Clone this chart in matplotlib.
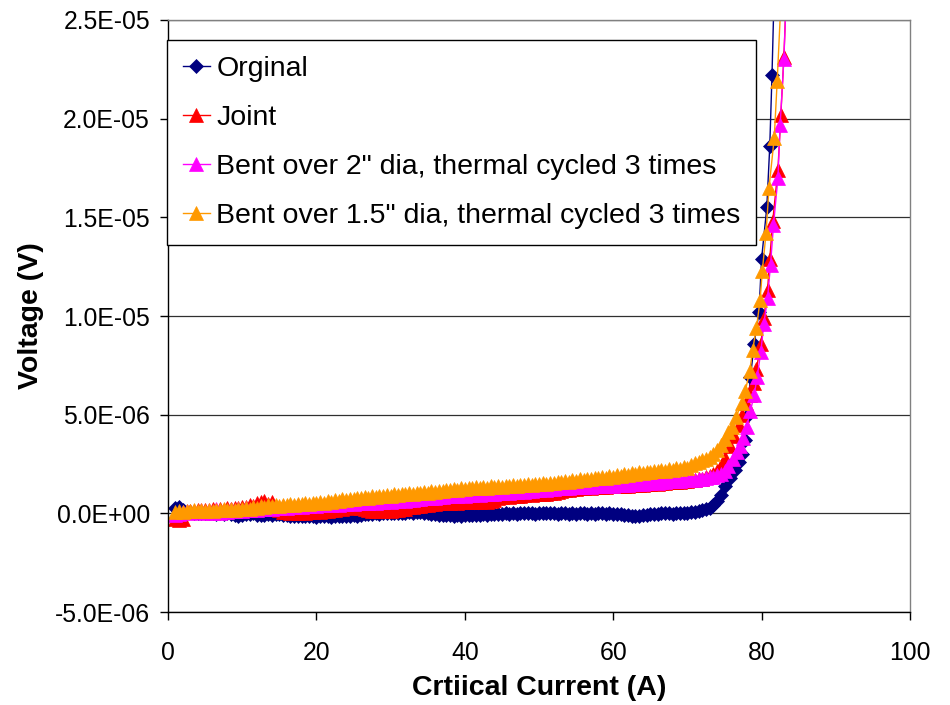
import numpy as np
import matplotlib
matplotlib.use("Agg")
import matplotlib.pyplot as plt
from matplotlib.ticker import FuncFormatter, MultipleLocator

plt.rcParams['font.family'] = ['Liberation Sans', 'DejaVu Sans']

# Common sampling grid (A) for the low-current part
current_flat = np.arange(1.0, 72.01, 0.5)

# ---------------- Values in microvolts ----------------
orig_flat_uV = [
    0.25, 0.30, 0.15, 0.08, 0.05, 0.02, 0.04, 0.00, 0.03, 0.01,
    0.02, -0.02, 0.01, -0.03, 0.00, -0.05, -0.08, -0.15, -0.06, -0.02,
    -0.04, 0.00, -0.06, -0.10, -0.08, -0.04, -0.06, -0.02, -0.05, -0.08,
    -0.10, -0.12, -0.14, -0.12, -0.15, -0.13, -0.16, -0.14, -0.17, -0.15,
    -0.16, -0.14, -0.17, -0.15, -0.13, -0.16, -0.14, -0.12, -0.10, -0.12,
    -0.08, -0.05, -0.03, -0.01, 0.01, -0.02, 0.00, 0.02, 0.00, 0.03,
    0.01, 0.04, 0.02, 0.06, 0.04, 0.07, 0.05, 0.03, 0.00, -0.03,
    -0.05, -0.08, -0.06, -0.10, -0.08, -0.11, -0.09, -0.12, -0.10, -0.08,
    -0.10, -0.07, -0.09, -0.05, -0.07, -0.03, -0.05, -0.01, -0.03, 0.00,
    -0.02, 0.01, -0.01, 0.02, 0.00, 0.03, 0.01, -0.02, 0.00, 0.02,
    0.00, 0.03, 0.01, -0.02, 0.00, 0.02, -0.01, 0.01, -0.02, 0.00,
    0.02, -0.01, 0.01, -0.02, 0.00, 0.02, -0.01, 0.01, -0.03, -0.01,
    -0.04, -0.07, -0.10, -0.13, -0.15, -0.12, -0.10, -0.06, -0.04, -0.01,
    -0.02, 0.01, 0.00, 0.02, -0.01, 0.01, 0.00, 0.02, 0.04, 0.06,
    0.08, 0.11, 0.15]
orig_steep_A = [72.5, 73.0, 73.5, 74.0, 74.5, 75.1, 75.7, 76.4, 76.9, 77.4,
                77.8, 78.1, 78.5, 79.0, 79.65, 80.0, 80.7, 81.1, 81.4, 81.8]
orig_steep_uV = [0.2, 0.28, 0.4, 0.65, 0.95, 1.4, 1.8, 2.2, 2.6, 3.0,
                 3.7, 5.0, 6.9, 8.6, 10.2, 12.9, 15.5, 18.6, 22.2, 28.0]

joint_flat_uV = [
    -0.30, -0.32, -0.28, 0.05, 0.12, 0.08, 0.15, 0.10, 0.18, 0.12,
    0.20, 0.15, 0.22, 0.18, 0.25, 0.20, 0.28, 0.25, 0.32, 0.30,
    0.40, 0.35, 0.50, 0.55, 0.62, 0.48, 0.58, 0.30, 0.15, 0.08,
    0.05, 0.02, 0.06, 0.03, 0.07, 0.04, 0.08, 0.05, 0.10, 0.08,
    0.12, 0.10, 0.18, 0.15, 0.25, 0.22, 0.30, 0.28, 0.32, 0.30,
    0.28, 0.22, 0.18, 0.14, 0.12, 0.15, 0.13, 0.16, 0.14, 0.18,
    0.17, 0.20, 0.22, 0.30, 0.32, 0.35, 0.38, 0.40, 0.42, 0.45,
    0.48, 0.52, 0.50, 0.55, 0.53, 0.56, 0.54, 0.57, 0.55, 0.58,
    0.56, 0.59, 0.57, 0.60, 0.58, 0.65, 0.70, 0.78, 0.82, 0.86,
    0.84, 0.88, 0.86, 0.90, 0.92, 0.96, 0.94, 0.98, 0.96, 1.00,
    0.98, 1.03, 1.05, 1.10, 1.12, 1.18, 1.20, 1.24, 1.25, 1.28,
    1.28, 1.31, 1.30, 1.33, 1.32, 1.35, 1.34, 1.37, 1.36, 1.39,
    1.38, 1.41, 1.40, 1.43, 1.42, 1.46, 1.45, 1.49, 1.48, 1.52,
    1.51, 1.55, 1.54, 1.58, 1.57, 1.61, 1.60, 1.64, 1.63, 1.68,
    1.68, 1.72, 1.76]
joint_steep_A = [72.5, 73.0, 73.5, 74.0, 74.5, 75.0, 75.7, 76.3, 76.9, 77.4,
                 77.9, 78.5, 79.0, 79.3, 79.9, 80.3, 80.8, 81.1, 81.5, 82.2,
                 82.6, 83.0, 83.5]
joint_steep_uV = [1.82, 1.9, 2.0, 2.15, 2.4, 2.8, 3.4, 3.9, 4.5, 5.0,
                  5.6, 6.0, 6.6, 7.3, 8.6, 9.9, 11.3, 12.9, 14.8, 17.4,
                  20.2, 23.1, 28.0]

bent2_flat_uV = [
    -0.10, -0.05, 0.05, 0.10, 0.02, 0.14, 0.05, 0.16, 0.04, 0.18,
    0.00, 0.20, 0.02, 0.19, 0.05, 0.22, 0.10, 0.24, 0.12, 0.25,
    0.15, 0.27, 0.18, 0.30, 0.20, 0.32, 0.22, 0.33, 0.25, 0.35,
    0.27, 0.38, 0.30, 0.40, 0.33, 0.42, 0.35, 0.44, 0.37, 0.45,
    0.40, 0.47, 0.42, 0.49, 0.44, 0.51, 0.46, 0.52, 0.48, 0.53,
    0.50, 0.55, 0.52, 0.56, 0.54, 0.58, 0.56, 0.60, 0.58, 0.62,
    0.60, 0.66, 0.64, 0.70, 0.68, 0.74, 0.72, 0.78, 0.76, 0.80,
    0.79, 0.84, 0.82, 0.88, 0.86, 0.90, 0.88, 0.92, 0.90, 0.94,
    0.92, 0.96, 0.94, 0.98, 0.96, 1.00, 0.98, 1.03, 1.01, 1.06,
    1.04, 1.09, 1.07, 1.12, 1.10, 1.15, 1.13, 1.18, 1.16, 1.21,
    1.20, 1.25, 1.24, 1.28, 1.27, 1.30, 1.29, 1.32, 1.31, 1.34,
    1.33, 1.36, 1.35, 1.38, 1.37, 1.40, 1.39, 1.42, 1.41, 1.44,
    1.43, 1.46, 1.45, 1.48, 1.47, 1.51, 1.50, 1.54, 1.53, 1.57,
    1.56, 1.60, 1.59, 1.63, 1.62, 1.66, 1.65, 1.69, 1.68, 1.72,
    1.71, 1.74, 1.76]
bent2_steep_A = [72.5, 73.0, 73.5, 74.0, 74.5, 75.0, 75.5, 76.1, 76.7, 77.1,
                 77.5, 78.0, 78.5, 79.0, 79.4, 79.9, 80.3, 80.8, 81.2, 81.6,
                 82.2, 82.5, 83.0, 83.5]
bent2_steep_uV = [1.78, 1.82, 1.86, 1.92, 2.0, 2.15, 2.4, 2.75, 3.1, 3.4,
                  3.8, 4.4, 5.2, 6.0, 6.9, 8.2, 9.6, 10.9, 12.6, 14.6,
                  17.0, 19.7, 23.0, 28.0]

bent15_flat_uV = [
    0.05, 0.10, 0.08, 0.12, 0.10, 0.15, 0.12, 0.16, 0.13, 0.17,
    0.14, 0.18, 0.15, 0.20, 0.17, 0.22, 0.19, 0.24, 0.21, 0.26,
    0.24, 0.30, 0.27, 0.36, 0.33, 0.40, 0.36, 0.42, 0.38, 0.44,
    0.41, 0.46, 0.43, 0.49, 0.45, 0.51, 0.48, 0.53, 0.50, 0.56,
    0.54, 0.61, 0.58, 0.66, 0.63, 0.71, 0.68, 0.75, 0.72, 0.79,
    0.77, 0.83, 0.80, 0.86, 0.83, 0.89, 0.86, 0.92, 0.90, 0.96,
    0.93, 0.99, 0.96, 1.02, 0.99, 1.05, 1.02, 1.08, 1.05, 1.11,
    1.09, 1.15, 1.12, 1.19, 1.16, 1.22, 1.20, 1.27, 1.24, 1.29,
    1.26, 1.31, 1.28, 1.33, 1.30, 1.36, 1.33, 1.38, 1.35, 1.41,
    1.38, 1.43, 1.40, 1.46, 1.43, 1.48, 1.45, 1.50, 1.47, 1.53,
    1.50, 1.56, 1.53, 1.60, 1.57, 1.64, 1.61, 1.68, 1.65, 1.72,
    1.69, 1.76, 1.73, 1.80, 1.77, 1.84, 1.81, 1.88, 1.85, 1.93,
    1.90, 1.97, 1.94, 2.02, 1.99, 2.07, 2.04, 2.11, 2.08, 2.15,
    2.12, 2.20, 2.17, 2.25, 2.22, 2.30, 2.27, 2.36, 2.32, 2.45,
    2.55, 2.62, 2.68]
bent15_steep_A = [72.5, 73.0, 73.5, 74.0, 74.5, 75.0, 75.5, 76.0, 76.6, 77.3,
                  77.8, 78.4, 78.8, 79.3, 79.8, 80.1, 80.6, 81.0, 81.7, 82.1,
                  82.8]
bent15_steep_uV = [2.75, 2.85, 3.0, 3.2, 3.45, 3.75, 4.1, 4.4, 4.9, 5.6,
                   6.2, 7.2, 8.3, 9.4, 10.8, 12.3, 14.2, 16.5, 19.0, 21.9,
                   27.5]

labels = ["Orginal", "Joint",
          'Bent over 2" dia, thermal cycled 3 times',
          'Bent over 1.5" dia, thermal cycled 3 times']
colors = ["#000080", "#FF0000", "#FF00FF", "#FF9900"]
markers = ["D", "^", "^", "^"]
msizes = [7, 9.5, 9.5, 9.5]

series = [
    (orig_flat_uV, orig_steep_A, orig_steep_uV),
    (joint_flat_uV, joint_steep_A, joint_steep_uV),
    (bent2_flat_uV, bent2_steep_A, bent2_steep_uV),
    (bent15_flat_uV, bent15_steep_A, bent15_steep_uV),
]

fig = plt.figure(figsize=(9.5, 7.05), dpi=100)
ax = fig.add_axes([168/950, 1-612/705, (910-168)/950, (612-20)/705])

for (flat, sA, sV), lab, c, m, ms in zip(series, labels, colors, markers, msizes):
    x = np.concatenate([current_flat, sA])
    y = np.concatenate([flat, sV]) * 1e-6
    ax.plot(x, y, color=c, lw=1.0, marker=m, ms=ms, mfc=c, mec=c, mew=0.5,
            label=lab)

ax.set_xlim(0, 100)
ax.set_ylim(-5e-6, 2.5e-5)
ax.xaxis.set_major_locator(MultipleLocator(20))
ax.yaxis.set_major_locator(MultipleLocator(5e-6))
ax.yaxis.set_major_formatter(FuncFormatter(lambda v, p: "{:.1E}".format(0.0 if abs(v) < 1e-12 else v)))
ax.grid(axis='y', color='#303030', lw=0.9)
ax.set_axisbelow(True)

for s in ['left', 'bottom']:
    ax.spines[s].set_color('black')
    ax.spines[s].set_linewidth(1.0)
for s in ['top', 'right']:
    ax.spines[s].set_color('#808080')
    ax.spines[s].set_linewidth(1.0)

ax.tick_params(axis='both', direction='out', length=6, width=1.0, labelsize=17.8,
               colors='black')
ax.tick_params(axis='y', pad=7)
ax.tick_params(axis='x', pad=15)
ax.tick_params(top=False, right=False)

ax.set_xlabel("Crtiical Current (A)", fontsize=20.5, fontweight='bold', labelpad=7)
ax.set_ylabel("Voltage (V)", fontsize=20.5, fontweight='bold', labelpad=8)

leg = ax.legend(loc='upper left', bbox_to_anchor=(-0.001, 0.966), borderaxespad=0,
                fontsize=20.5, frameon=True, fancybox=False, edgecolor='black',
                handlelength=0.95, handletextpad=0.22, labelspacing=0.81,
                borderpad=0.55, markerscale=1.0, framealpha=1)
leg.get_frame().set_linewidth(1.0)

fig.savefig("out.png", dpi=100)
